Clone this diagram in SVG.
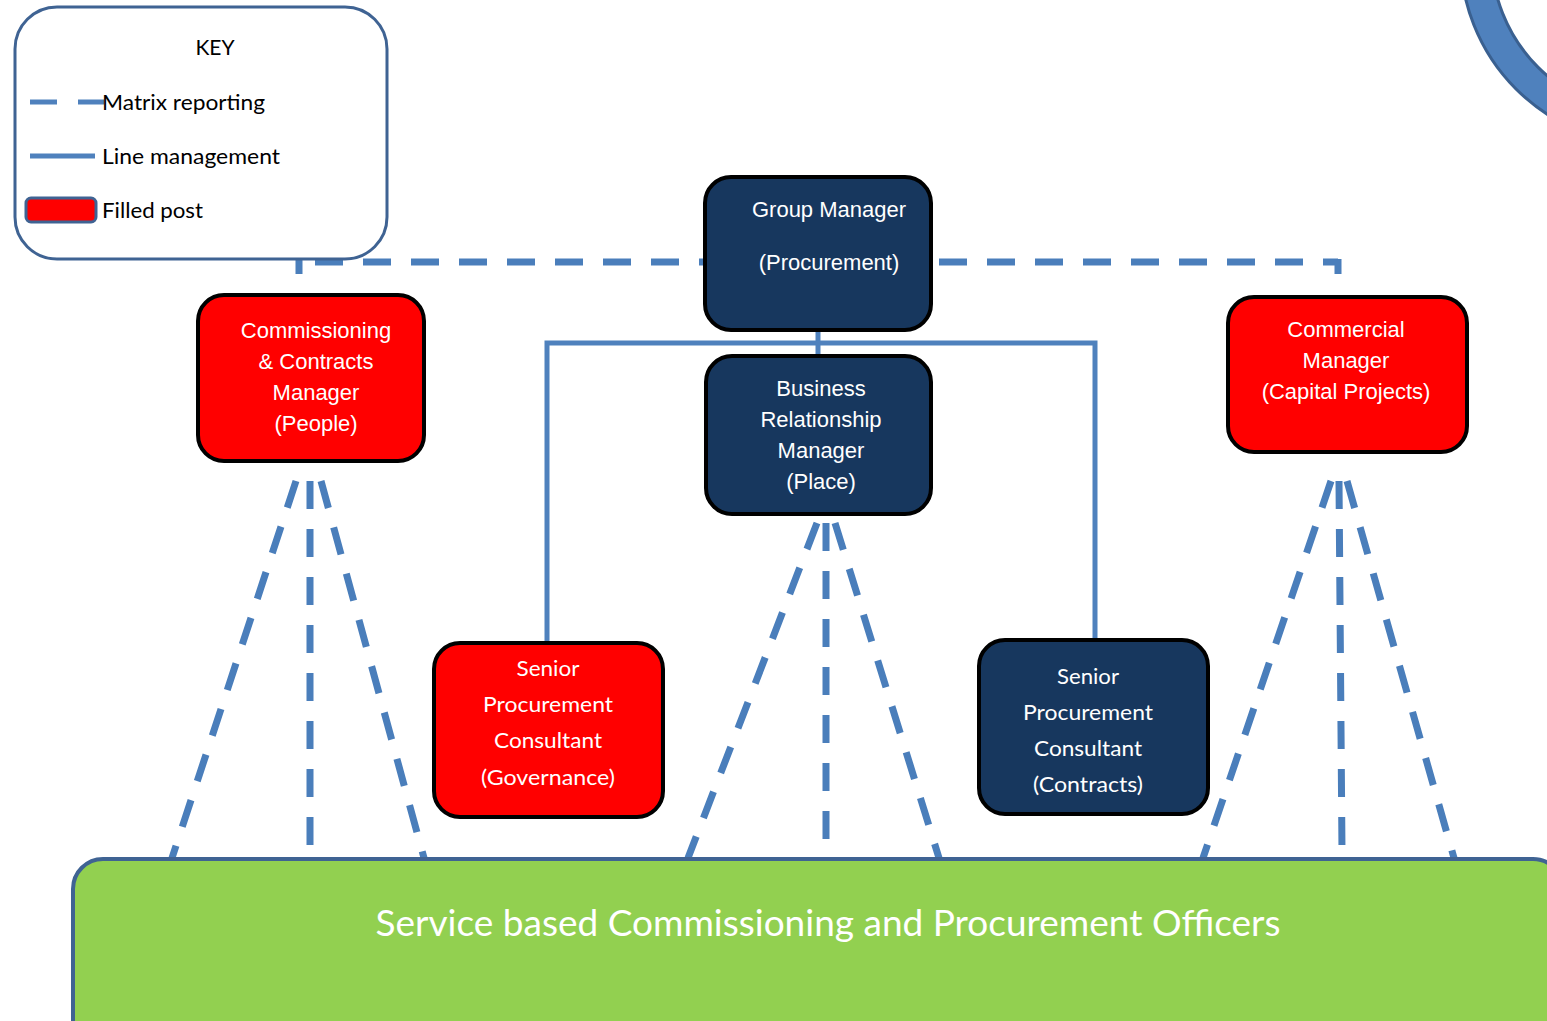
<svg xmlns="http://www.w3.org/2000/svg" width="1547" height="1021" viewBox="0 0 1547 1021">
<style>
.dash{fill:none;stroke:#4a7ebb;stroke-width:7;stroke-dasharray:28 20}
.solid{fill:none;stroke:#4f81bd;stroke-width:5}
.navy{fill:#17375e;stroke:#000;stroke-width:4}
.red{fill:#ff0000;stroke:#000;stroke-width:4}
.a{font-family:"Liberation Sans",Arial,sans-serif;font-size:22px;fill:#fff;text-anchor:middle}
.c{font-family:Lato,"Open Sans",sans-serif;font-size:22px;fill:#fff;text-anchor:middle}
.k{font-family:Lato,"Open Sans",sans-serif;font-size:22px;fill:#000}
</style>
<rect width="1547" height="1021" fill="#fff"/>
<g id="ring">
<circle cx="1650" cy="-45" r="174" fill="none" stroke="#3a6090" stroke-width="34"/>
<circle cx="1650" cy="-45" r="174" fill="none" stroke="#4f81bd" stroke-width="28"/>
</g>
<g id="connectors">
<path class="dash" d="M299,262 H1338" style="stroke-dashoffset:-16"/>
<path d="M299,259 V274 M1338,259 V274" stroke="#4a7ebb" stroke-width="7" fill="none"/>
<path class="solid" d="M818,330 V356"/>
<path class="solid" d="M547,643 V343 H1095 V640"/>
<path class="dash" d="M296,481 L172,858"/>
<path class="dash" d="M310,481 V852"/>
<path class="dash" d="M321,481 L424,858"/>
<path class="dash" d="M817,523 L688,858"/>
<path class="dash" d="M826,523 V846"/>
<path class="dash" d="M835,523 L939,858"/>
<path class="dash" d="M1331,481 L1203,858"/>
<path class="dash" d="M1339,481 L1342,852"/>
<path class="dash" d="M1347,481 L1454,858"/>
</g>
<g id="key">
<rect x="15" y="7" width="372" height="252" rx="42" fill="#fff" stroke="#3f6393" stroke-width="3"/>
<text class="k" x="215" y="55" style="text-anchor:middle;font-size:21px">KEY</text>
<path d="M30,102 H57 M78,102 H104" stroke="#4f81bd" stroke-width="5"/>
<text class="k" x="102" y="110" textLength="163" lengthAdjust="spacingAndGlyphs">Matrix reporting</text>
<path d="M30,156 H95" stroke="#4f81bd" stroke-width="5"/>
<text class="k" x="102" y="164" textLength="178" lengthAdjust="spacingAndGlyphs">Line management</text>
<rect x="26" y="198" width="70" height="24" rx="5" fill="#ff0000" stroke="#3f6393" stroke-width="3"/>
<text class="k" x="102" y="218" textLength="101" lengthAdjust="spacingAndGlyphs">Filled post</text>
</g>
<g id="group-manager">
<rect class="navy" x="705" y="177" width="226" height="153" rx="26"/>
<text class="a" x="829" y="217">Group Manager</text>
<text class="a" x="829" y="270">(Procurement)</text>
</g>
<g id="business-relationship-manager">
<rect class="navy" x="706" y="356" width="225" height="158" rx="26"/>
<text class="a" x="821" y="396">Business</text>
<text class="a" x="821" y="427">Relationship</text>
<text class="a" x="821" y="458">Manager</text>
<text class="a" x="821" y="489">(Place)</text>
</g>
<g id="commissioning-contracts-manager">
<rect class="red" x="198" y="295" width="226" height="166" rx="26"/>
<text class="a" x="316" y="338">Commissioning</text>
<text class="a" x="316" y="369">&amp; Contracts</text>
<text class="a" x="316" y="400">Manager</text>
<text class="a" x="316" y="431">(People)</text>
</g>
<g id="commercial-manager">
<rect class="red" x="1228" y="297" width="239" height="155" rx="26"/>
<text class="a" x="1346" y="337">Commercial</text>
<text class="a" x="1346" y="368">Manager</text>
<text class="a" x="1346" y="399">(Capital Projects)</text>
</g>
<g id="spc-governance">
<rect class="red" x="434" y="643" width="229" height="174" rx="26"/>
<text class="c" x="548" y="676" textLength="63" lengthAdjust="spacingAndGlyphs">Senior</text>
<text class="c" x="548" y="712" textLength="130" lengthAdjust="spacingAndGlyphs">Procurement</text>
<text class="c" x="548" y="748" textLength="108" lengthAdjust="spacingAndGlyphs">Consultant</text>
<text class="c" x="548" y="785" textLength="134" lengthAdjust="spacingAndGlyphs">(Governance)</text>
</g>
<g id="spc-contracts">
<rect class="navy" x="979" y="640" width="229" height="174" rx="26"/>
<text class="c" x="1088" y="684" textLength="62" lengthAdjust="spacingAndGlyphs">Senior</text>
<text class="c" x="1088" y="720" textLength="130" lengthAdjust="spacingAndGlyphs">Procurement</text>
<text class="c" x="1088" y="756" textLength="108" lengthAdjust="spacingAndGlyphs">Consultant</text>
<text class="c" x="1088" y="792" textLength="110" lengthAdjust="spacingAndGlyphs">(Contracts)</text>
</g>
<g id="service-officers">
<rect x="73" y="859" width="1490" height="200" rx="30" fill="#92d050" stroke="#3f6393" stroke-width="4"/>
<text class="c" x="828" y="936" style="font-size:37px" textLength="905" lengthAdjust="spacingAndGlyphs">Service based Commissioning and Procurement Officers</text>
</g>
</svg>
